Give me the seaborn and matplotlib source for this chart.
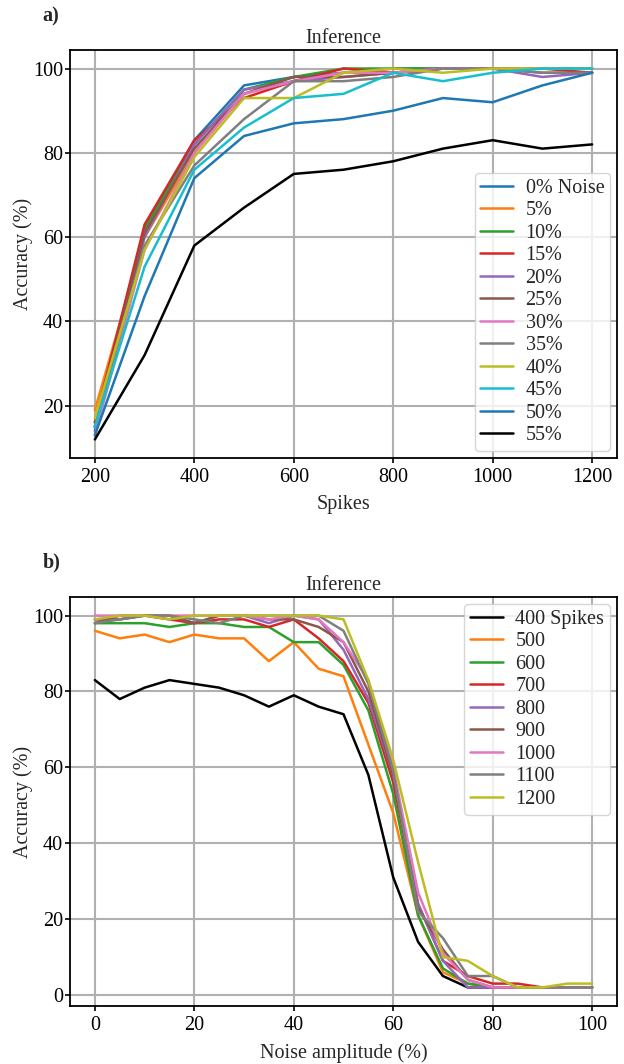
import numpy as np
import pandas as pd
import seaborn as sns
import matplotlib
matplotlib.use("Agg")
import matplotlib.pyplot as plt

# ---- panel a: accuracy vs. number of spikes for several noise levels ----
spikes = [200, 300, 400, 500, 600, 700, 800, 900, 1000, 1100, 1200]
noise_labels = ["0% Noise", "5%", "10%", "15%", "20%", "25%", "30%",
                "35%", "40%", "45%", "50%", "55%"]
acc_n0 = [14, 62, 83, 96, 98, 99, 100, 100, 100, 100, 100]
acc_n5 = [19, 60, 80, 94, 97, 99, 99, 100, 100, 100, 100]
acc_n10 = [16, 62, 82, 95, 98, 100, 100, 100, 100, 100, 100]
acc_n15 = [16, 63, 83, 93, 97, 100, 99, 100, 100, 100, 99]
acc_n20 = [15, 60, 82, 95, 97, 98, 99, 100, 100, 98, 99]
acc_n25 = [15, 61, 81, 94, 98, 98, 99, 100, 100, 99, 99]
acc_n30 = [13, 57, 80, 94, 97, 99, 99, 100, 100, 100, 100]
acc_n35 = [15, 58, 77, 88, 97, 97, 98, 100, 100, 99, 99]
acc_n40 = [17, 57, 79, 93, 93, 99, 100, 99, 100, 100, 100]
acc_n45 = [15, 53, 76, 86, 93, 94, 99, 97, 99, 100, 100]
acc_n50 = [13, 46, 74, 84, 87, 88, 90, 93, 92, 96, 99]
acc_n55 = [12, 32, 58, 67, 75, 76, 78, 81, 83, 81, 82]
noise_series = [acc_n0, acc_n5, acc_n10, acc_n15, acc_n20, acc_n25, acc_n30,
                acc_n35, acc_n40, acc_n45, acc_n50, acc_n55]

# ---- panel b: accuracy vs. noise amplitude for several spike counts ----
noise_amp = [0, 5, 10, 15, 20, 25, 30, 35, 40, 45, 50,
             55, 60, 65, 70, 75, 80, 85, 90, 95, 100]
spike_labels = ["400 Spikes", "500", "600", "700", "800", "900",
                "1000", "1100", "1200"]
acc_s400 = [83, 78, 81, 83, 82, 81, 79, 76, 79, 76, 74, 58, 31, 14, 5, 2, 2, 2, 2, 2, 2]
acc_s500 = [96, 94, 95, 93, 95, 94, 94, 88, 93, 86, 84, 66, 48, 21, 6, 3, 2, 2, 2, 2, 2]
acc_s600 = [98, 98, 98, 97, 98, 98, 97, 97, 93, 93, 87, 75, 53, 21, 7, 3, 2, 2, 2, 2, 2]
acc_s700 = [99, 99, 100, 99, 98, 99, 99, 97, 99, 94, 88, 77, 56, 24, 9, 5, 3, 3, 2, 2, 2]
acc_s800 = [99, 99, 100, 100, 98, 100, 100, 98, 100, 99, 91, 78, 58, 24, 9, 2, 2, 2, 2, 2, 2]
acc_s900 = [98, 100, 100, 100, 98, 100, 100, 99, 99, 97, 93, 80, 58, 23, 12, 4, 2, 2, 2, 2, 2]
acc_s1000 = [100, 100, 100, 100, 100, 100, 100, 99, 100, 99, 93, 83, 60, 27, 11, 4, 2, 2, 2, 2, 2]
acc_s1100 = [98, 99, 100, 100, 99, 98, 100, 100, 100, 100, 96, 82, 59, 22, 15, 5, 5, 2, 2, 2, 2]
acc_s1200 = [99, 100, 100, 99, 100, 100, 100, 100, 100, 100, 99, 83, 62, 35, 10, 9, 5, 2, 2, 3, 3]
spike_series = [acc_s400, acc_s500, acc_s600, acc_s700, acc_s800, acc_s900,
                acc_s1000, acc_s1100, acc_s1200]

tab10 = sns.color_palette("tab10", 10)
palette_a = [tab10[i % 10] for i in range(11)] + ["black"]
palette_b = ["black"] + list(tab10[1:9])

df_a = pd.DataFrame(
    [(s, v, lab) for lab, vals in zip(noise_labels, noise_series)
     for s, v in zip(spikes, vals)],
    columns=["Spikes", "Accuracy", "Noise"])
df_b = pd.DataFrame(
    [(n, v, lab) for lab, vals in zip(spike_labels, spike_series)
     for n, v in zip(noise_amp, vals)],
    columns=["Noise amplitude", "Accuracy", "Spikes"])

FS = 14.5

sns.set_style("ticks")
plt.rcParams.update({
    "font.family": ["Liberation Serif", "DejaVu Serif"],
    "font.size": FS,
    "axes.edgecolor": "black",
    "axes.linewidth": 1.3,
    "xtick.color": "black",
    "ytick.color": "black",
    "xtick.major.size": 3.6,
    "ytick.major.size": 3.6,
    "xtick.major.width": 1.2,
    "ytick.major.width": 1.2,
    "xtick.major.pad": 3.5,
    "ytick.major.pad": 1.5,
    "xtick.direction": "out",
    "ytick.direction": "out",
    "axes.labelpad": 5,
    "axes.grid": True,
    "grid.color": "#b0b0b0",
    "grid.linewidth": 1.5,
    "grid.linestyle": "-",
})

fig = plt.figure(figsize=(6.24, 10.64), dpi=100)
ax_a = fig.add_axes([70 / 624, 1 - 458 / 1064, 547 / 624, 408 / 1064])
ax_b = fig.add_axes([70 / 624, 1 - 1006 / 1064, 547 / 624, 409 / 1064])

sns.lineplot(data=df_a, x="Spikes", y="Accuracy", hue="Noise",
             hue_order=noise_labels, palette=palette_a, linewidth=1.8,
             ax=ax_a)
sns.lineplot(data=df_b, x="Noise amplitude", y="Accuracy", hue="Spikes",
             hue_order=spike_labels, palette=palette_b, linewidth=1.8,
             ax=ax_b)

ax_a.set_xticks([200, 400, 600, 800, 1000, 1200])
ax_a.set_yticks([20, 40, 60, 80, 100])
ax_a.set_xlabel("Spikes", labelpad=6)
ax_a.set_ylabel("Accuracy (%)", labelpad=0)
ax_a.set_title("Inference", fontsize=FS, pad=5)

ax_b.set_xticks([0, 20, 40, 60, 80, 100])
ax_b.set_yticks([0, 20, 40, 60, 80, 100])
ax_b.set_xlabel("Noise amplitude (%)", labelpad=6)
ax_b.set_ylabel("Accuracy (%)", labelpad=0)
ax_b.set_title("Inference", fontsize=FS, pad=5)

for ax in (ax_a, ax_b):
    ax.set_axisbelow(True)
    for sp in ax.spines.values():
        sp.set_visible(True)
        sp.set_color("black")

legend_kw = dict(fontsize=FS, labelspacing=0.17, handlelength=1.65,
                 handletextpad=0.6, borderpad=0.28, borderaxespad=0.35,
                 framealpha=0.8)
h, l = ax_a.get_legend_handles_labels()
ax_a.legend(h, l, loc="lower right", **legend_kw)
h, l = ax_b.get_legend_handles_labels()
ax_b.legend(h, l, loc="upper right", **legend_kw)

fig.text(42 / 624, 1 - 21 / 1064, "a)", fontweight="bold", fontsize=FS,
         va="baseline")
fig.text(43 / 624, 1 - 567 / 1064, "b)", fontweight="bold", fontsize=FS,
         va="baseline")

fig.savefig("out.png", dpi=100)
